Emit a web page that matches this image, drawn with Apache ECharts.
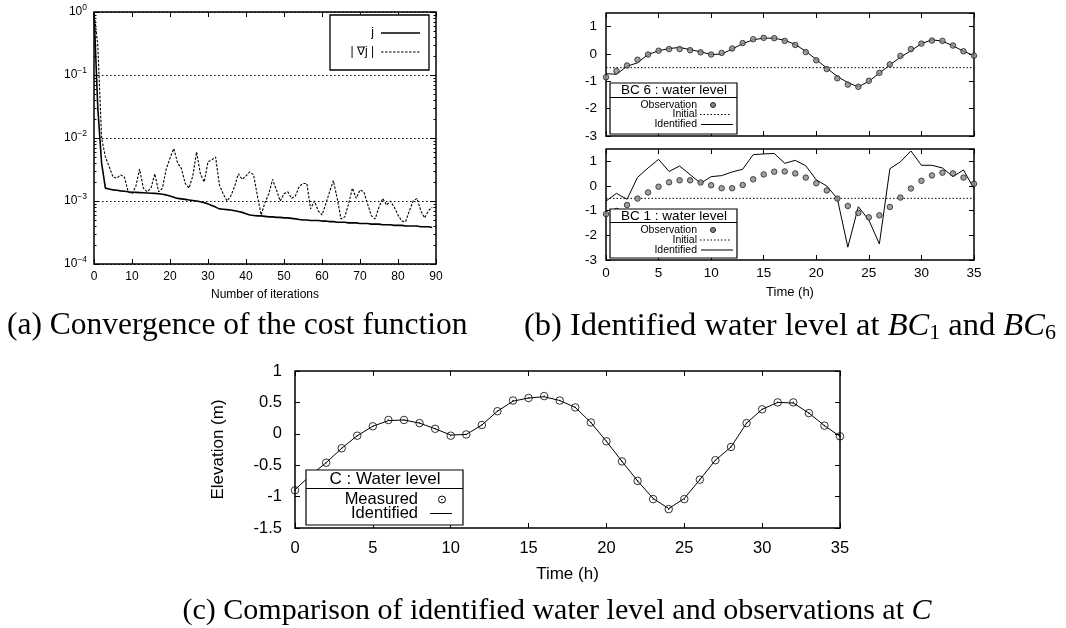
<!DOCTYPE html>
<html><head><meta charset="utf-8">
<script src="https://cdn.jsdelivr.net/npm/echarts@6/dist/echarts.min.js"></script>
<style>html,body{margin:0;padding:0;background:#fff}#c{width:1066px;height:628px}</style>
</head><body><div id="c"></div>
<script>
// ---------- DATA ----------
// (a) convergence, iterations 0..89
const costJ = [1,0.03,0.004,0.0016,0.00155,0.0015,0.00148,0.00145,0.00143,0.0014,
  0.00138,0.00137,0.00136,0.00135,0.00134,0.00133,0.00132,0.0013,0.00128,0.00125,
  0.0012,0.00115,0.0011,0.00108,0.00106,0.00104,0.00102,0.001,0.00097,0.00094,
  0.0009,0.00085,0.0008,0.00075,0.00074,0.00073,0.00072,0.0007,0.00068,0.00066,
  0.00063,0.0006,0.00059,0.00058,0.00058,0.00057,0.00056,0.00056,0.00055,0.00055,
  0.00054,0.00054,0.00053,0.00052,0.00051,0.0005,0.0005,0.00049,0.00049,0.00049,
  0.00048,0.00048,0.00047,0.00047,0.00046,0.00046,0.00046,0.00045,0.00045,0.00045,
  0.00044,0.00044,0.00044,0.00043,0.00043,0.00043,0.00042,0.00042,0.00042,0.00041,
  0.00041,0.00041,0.0004,0.0004,0.0004,0.0004,0.00039,0.00039,0.00039,0.00038];
const gradJ = [1,0.3,0.01,0.005,0.0035,0.0024,0.0023,0.0026,0.0024,0.0014,
  0.0013,0.0017,0.0032,0.0016,0.0014,0.0016,0.0027,0.0014,0.0016,0.0032,
  0.0048,0.0068,0.004,0.0033,0.0019,0.0016,0.0025,0.006,0.0027,0.002,
  0.0042,0.0045,0.005,0.0018,0.0013,0.001,0.0012,0.0017,0.0027,0.0022,
  0.0025,0.0029,0.0026,0.0012,0.0006,0.00095,0.0013,0.0022,0.0015,0.001,
  0.0013,0.0014,0.0011,0.0012,0.0017,0.0019,0.0019,0.00075,0.001,0.0007,
  0.0006,0.0009,0.0014,0.0021,0.0011,0.00052,0.00056,0.0009,0.0016,0.0011,
  0.0015,0.0014,0.0009,0.00058,0.00052,0.0008,0.0011,0.00086,0.001,0.0008,
  0.0006,0.00048,0.00047,0.0007,0.001,0.0011,0.0007,0.00054,0.0007,0.0008];

// (b)/(c) hours 0..35
const hours = [0,1,2,3,4,5,6,7,8,9,10,11,12,13,14,15,16,17,18,19,20,21,22,23,24,25,26,27,28,29,30,31,32,33,34,35];
const bc6Obs = [-0.85,-0.62,-0.42,-0.21,-0.02,0.12,0.18,0.18,0.14,0.06,-0.02,0.04,0.2,0.4,0.54,0.59,0.58,0.48,0.33,0.07,
  -0.23,-0.55,-0.89,-1.12,-1.2,-0.98,-0.69,-0.38,-0.07,0.18,0.38,0.49,0.48,0.31,0.1,-0.06];
const bc6Ident = [-0.72,-0.74,-0.45,-0.32,-0.02,0.12,0.2,0.24,0.16,0.08,-0.02,0.0,0.18,0.38,0.52,0.58,0.58,0.5,0.35,0.1,
  -0.2,-0.52,-0.82,-1.05,-1.2,-1.0,-0.7,-0.4,-0.12,0.12,0.38,0.52,0.47,0.3,0.1,-0.06];
const bc1Obs = [-1.14,-1.01,-0.77,-0.51,-0.26,-0.03,0.15,0.23,0.23,0.14,0.03,-0.09,-0.09,0.04,0.27,0.47,0.58,0.59,0.51,0.34,
  0.11,-0.18,-0.51,-0.81,-1.09,-1.27,-1.19,-0.85,-0.47,-0.1,0.21,0.43,0.54,0.51,0.34,0.09];
const bc1Ident = [-0.61,-0.3,-0.54,0.35,0.73,1.08,0.59,0.81,0.46,0.11,0.38,0.42,0.57,0.68,1.27,1.3,1.32,0.92,1.04,0.82,
  0.25,0.0,-0.51,-2.48,-0.84,-1.38,-2.35,0.7,0.98,1.42,0.84,0.84,0.73,0.38,0.65,-0.11];
const initialHours = [0, 35];
const initialLevel = [-0.5, -0.5];
const cMeasured = [-0.9,-0.66,-0.46,-0.23,-0.03,0.12,0.22,0.22,0.17,0.08,-0.03,-0.01,0.14,0.36,0.53,0.57,0.6,0.53,0.42,0.18,
  -0.12,-0.44,-0.75,-1.04,-1.2,-1.04,-0.73,-0.42,-0.21,0.17,0.39,0.5,0.5,0.33,0.13,-0.04];
const cIdent = [-0.89,-0.66,-0.46,-0.23,-0.03,0.12,0.21,0.22,0.17,0.08,-0.02,-0.01,0.14,0.36,0.52,0.57,0.59,0.53,0.42,0.18,
  -0.12,-0.44,-0.75,-1.03,-1.19,-1.03,-0.73,-0.42,-0.21,0.17,0.39,0.5,0.49,0.33,0.13,-0.04];

// ---------- HELPERS ----------
const SANS = '"Liberation Sans", Arial, sans-serif';
const SERIF = '"Liberation Serif", "Times New Roman", serif';
const pair = (xs, ys) => ys.map((v, i) => [xs[i], v]);
const idx = ys => ys.map((v, i) => [i, v]);

function xAx(grid, min, max, interval, opts) {
  return Object.assign({
    gridIndex: grid, type: 'value', min, max, interval, position: 'bottom',
    axisLine: {show: false, onZero: false},
    axisTick: {show: true, inside: true, length: 5, lineStyle: {color: '#000', width: 1}},
    splitLine: {show: false},
    axisLabel: {show: false}
  }, opts || {});
}
function yAx(grid, min, max, interval, opts) {
  return Object.assign({
    gridIndex: grid, type: 'value', min, max, interval, position: 'left',
    axisLine: {show: false, onZero: false},
    axisTick: {show: true, inside: true, length: 5, lineStyle: {color: '#000', width: 1}},
    splitLine: {show: false},
    axisLabel: {show: false}
  }, opts || {});
}
const logLabel = {
  show: true, margin: 7, color: '#000', fontFamily: SANS, fontSize: 12,
  formatter: v => { const e = Math.round(Math.log10(v)); return '{b|10}{s|' + (e === 0 ? '0' : '\u2212' + (-e)) + '}'; },
  rich: { b: {fontSize: 12, fontFamily: SANS, color: '#000'},
          s: {fontSize: 8.5, fontFamily: SANS, color: '#000', padding: [0, 0, 8, 0]} }
};
const logAxisBase = {
  type: 'log', logBase: 10, min: 0.0001, max: 1,
  axisLine: {show: false, onZero: false},
  axisTick: {show: true, inside: true, length: 5, lineStyle: {color: '#000'}},
  minorTick: {show: true, splitNumber: 9, length: 2.5, lineStyle: {color: '#000'}},
  splitLine: {show: false}, axisLabel: {show: false}
};

const gridBorder = {show: true, borderColor: '#000', borderWidth: 1.5, backgroundColor: 'transparent'};

const option = {
  animation: false,
  backgroundColor: '#fff',
  grid: [
    Object.assign({left: 94, top: 12, width: 342, height: 252}, gridBorder),
    Object.assign({left: 606, top: 13, width: 368, height: 123}, gridBorder),
    Object.assign({left: 606, top: 149, width: 368, height: 111}, gridBorder),
    Object.assign({left: 295, top: 371, width: 545, height: 157}, gridBorder)
  ],
  xAxis: [
    xAx(0, 0, 90, 10, {axisLabel: {show: true, margin: 7, color: '#000', fontFamily: SANS, fontSize: 12},
      name: 'Number of iterations', nameLocation: 'middle', nameGap: 25,
      nameTextStyle: {color: '#000', fontFamily: SANS, fontSize: 12}}),
    xAx(0, 0, 90, 10, {position: 'top'}),
    xAx(1, 0, 35, 5),
    xAx(1, 0, 35, 5, {position: 'top'}),
    xAx(2, 0, 35, 5, {axisLabel: {show: true, margin: 6, color: '#000', fontFamily: SANS, fontSize: 13.5},
      name: 'Time (h)', nameLocation: 'middle', nameGap: 26,
      nameTextStyle: {color: '#000', fontFamily: SANS, fontSize: 13}}),
    xAx(2, 0, 35, 5, {position: 'top'}),
    xAx(3, 0, 35, 5, {axisLabel: {show: true, margin: 12, color: '#000', fontFamily: SANS, fontSize: 16.5},
      name: 'Time (h)', nameLocation: 'middle', nameGap: 38,
      nameTextStyle: {color: '#000', fontFamily: SANS, fontSize: 17}}),
    xAx(3, 0, 35, 5, {position: 'top'})
  ],
  yAxis: [
    Object.assign({gridIndex: 0, position: 'left'}, logAxisBase, {axisLabel: logLabel,
      splitLine: {show: true, lineStyle: {color: '#000', type: [1.5, 2.5], width: 1}}}),
    Object.assign({gridIndex: 0, position: 'right'}, logAxisBase),
    yAx(1, -3, 1.5, 1, {axisLabel: {show: true, showMaxLabel: false, margin: 9, color: '#000', fontFamily: SANS, fontSize: 13.5}}),
    yAx(1, -3, 1.5, 1, {position: 'right'}),
    yAx(2, -3, 1.5, 1, {axisLabel: {show: true, showMaxLabel: false, margin: 9, color: '#000', fontFamily: SANS, fontSize: 13.5}}),
    yAx(2, -3, 1.5, 1, {position: 'right'}),
    yAx(3, -1.5, 1, 0.5, {axisLabel: {show: true, margin: 13, color: '#000', fontFamily: SANS, fontSize: 16.5},
      name: 'Elevation (m)', nameLocation: 'middle', nameGap: 68,
      nameTextStyle: {color: '#000', fontFamily: SANS, fontSize: 17}}),
    yAx(3, -1.5, 1, 0.5, {position: 'right'})
  ],
  series: [
    {name: 'j', type: 'line', xAxisIndex: 0, yAxisIndex: 0, data: idx(costJ), showSymbol: false,
      lineStyle: {color: '#000', width: 1.6}, z: 3},
    {name: '|∇j|', type: 'line', xAxisIndex: 0, yAxisIndex: 0, data: idx(gradJ), showSymbol: false,
      lineStyle: {color: '#000', width: 1.1, type: [2.5, 1.5]}, z: 3},

    {name: 'BC6 Initial', type: 'line', xAxisIndex: 2, yAxisIndex: 2, data: pair(initialHours, initialLevel), showSymbol: false,
      lineStyle: {color: '#000', width: 1, type: [1.5, 2]}},
    {name: 'BC6 Identified', type: 'line', xAxisIndex: 2, yAxisIndex: 2, data: pair(hours, bc6Ident), showSymbol: false,
      lineStyle: {color: '#000', width: 1}},
    {name: 'BC6 Observation', type: 'scatter', xAxisIndex: 2, yAxisIndex: 2, data: pair(hours, bc6Obs), symbol: 'circle', symbolSize: 5.5,
      itemStyle: {color: '#8a8a8a', borderColor: '#222', borderWidth: 1}, z: 4},

    {name: 'BC1 Initial', type: 'line', xAxisIndex: 4, yAxisIndex: 4, data: pair(initialHours, initialLevel), showSymbol: false,
      lineStyle: {color: '#000', width: 1, type: [1.5, 2]}},
    {name: 'BC1 Identified', type: 'line', xAxisIndex: 4, yAxisIndex: 4, data: pair(hours, bc1Ident), showSymbol: false,
      lineStyle: {color: '#000', width: 1}},
    {name: 'BC1 Observation', type: 'scatter', xAxisIndex: 4, yAxisIndex: 4, data: pair(hours, bc1Obs), symbol: 'circle', symbolSize: 5.5,
      itemStyle: {color: '#8a8a8a', borderColor: '#222', borderWidth: 1}, z: 4},

    {name: 'C Identified', type: 'line', xAxisIndex: 6, yAxisIndex: 6, data: pair(hours, cIdent), showSymbol: false,
      lineStyle: {color: '#000', width: 1}},
    {name: 'C Measured', type: 'scatter', xAxisIndex: 6, yAxisIndex: 6, data: pair(hours, cMeasured), symbol: 'circle', symbolSize: 7.5,
      itemStyle: {color: 'rgba(255,255,255,0)', borderColor: '#000', borderWidth: 1}, z: 4},
    {name: 'C Measured dot', type: 'scatter', xAxisIndex: 6, yAxisIndex: 6, data: pair(hours, cMeasured), symbol: 'circle', symbolSize: 1.6,
      itemStyle: {color: '#000'}, z: 5}
  ],
  graphic: [
    // legend (a)
    {type: 'rect', shape: {x: 330, y: 15, width: 99, height: 55}, style: {fill: '#fff', stroke: '#000', lineWidth: 1.3}, z: 10},
    {type: 'text', x: 374, y: 33, style: {text: 'j', fontFamily: SANS, fontSize: 12, fill: '#000', align: 'right', verticalAlign: 'middle'}, z: 11},
    {type: 'line', shape: {x1: 381, y1: 33, x2: 420, y2: 33}, style: {stroke: '#000', lineWidth: 1.5}, z: 11},
    {type: 'text', x: 374, y: 52, style: {text: '| \u2207j |', fontFamily: SANS, fontSize: 12, fill: '#000', align: 'right', verticalAlign: 'middle'}, z: 11},
    {type: 'line', shape: {x1: 381, y1: 52, x2: 420, y2: 52}, style: {stroke: '#000', lineWidth: 1.1, lineDash: [2.5, 1.5]}, z: 11},

    // legend BC6
    {type: 'rect', shape: {x: 610, y: 83, width: 127, height: 51}, style: {fill: '#fff', stroke: '#000', lineWidth: 1.2}, z: 10},
    {type: 'line', shape: {x1: 610, y1: 97.5, x2: 737, y2: 97.5}, style: {stroke: '#000', lineWidth: 1}, z: 11},
    {type: 'text', x: 674, y: 90.5, style: {text: 'BC 6 : water level', fontFamily: SANS, fontSize: 13.5, fill: '#000', align: 'center', verticalAlign: 'middle'}, z: 11},
    {type: 'text', x: 697, y: 105, style: {text: 'Observation', fontFamily: SANS, fontSize: 10.5, fill: '#000', align: 'right', verticalAlign: 'middle'}, z: 11},
    {type: 'circle', shape: {cx: 713, cy: 105, r: 2.5}, style: {fill: '#8a8a8a', stroke: '#222', lineWidth: 1}, z: 11},
    {type: 'text', x: 697, y: 114.5, style: {text: 'Initial', fontFamily: SANS, fontSize: 10.5, fill: '#000', align: 'right', verticalAlign: 'middle'}, z: 11},
    {type: 'line', shape: {x1: 700, y1: 114.5, x2: 730, y2: 114.5}, style: {stroke: '#000', lineWidth: 1, lineDash: [1.5, 2]}, z: 11},
    {type: 'text', x: 697, y: 124.5, style: {text: 'Identified', fontFamily: SANS, fontSize: 10.5, fill: '#000', align: 'right', verticalAlign: 'middle'}, z: 11},
    {type: 'line', shape: {x1: 701, y1: 124.5, x2: 733, y2: 124.5}, style: {stroke: '#000', lineWidth: 1}, z: 11},

    // legend BC1
    {type: 'rect', shape: {x: 610, y: 209, width: 127, height: 49}, style: {fill: '#fff', stroke: '#000', lineWidth: 1.2}, z: 10},
    {type: 'line', shape: {x1: 610, y1: 222.5, x2: 737, y2: 222.5}, style: {stroke: '#000', lineWidth: 1}, z: 11},
    {type: 'text', x: 674, y: 216, style: {text: 'BC 1 : water level', fontFamily: SANS, fontSize: 13.5, fill: '#000', align: 'center', verticalAlign: 'middle'}, z: 11},
    {type: 'text', x: 697, y: 230, style: {text: 'Observation', fontFamily: SANS, fontSize: 10.5, fill: '#000', align: 'right', verticalAlign: 'middle'}, z: 11},
    {type: 'circle', shape: {cx: 713, cy: 230, r: 2.5}, style: {fill: '#8a8a8a', stroke: '#222', lineWidth: 1}, z: 11},
    {type: 'text', x: 697, y: 240, style: {text: 'Initial', fontFamily: SANS, fontSize: 10.5, fill: '#000', align: 'right', verticalAlign: 'middle'}, z: 11},
    {type: 'line', shape: {x1: 700, y1: 240, x2: 730, y2: 240}, style: {stroke: '#000', lineWidth: 1, lineDash: [1.5, 2]}, z: 11},
    {type: 'text', x: 697, y: 250, style: {text: 'Identified', fontFamily: SANS, fontSize: 10.5, fill: '#000', align: 'right', verticalAlign: 'middle'}, z: 11},
    {type: 'line', shape: {x1: 701, y1: 250, x2: 733, y2: 250}, style: {stroke: '#000', lineWidth: 1}, z: 11},

    // legend C
    {type: 'rect', shape: {x: 306, y: 470, width: 157, height: 55}, style: {fill: '#fff', stroke: '#000', lineWidth: 1.2}, z: 10},
    {type: 'line', shape: {x1: 306, y1: 488.5, x2: 463, y2: 488.5}, style: {stroke: '#000', lineWidth: 1}, z: 11},
    {type: 'text', x: 385, y: 479, style: {text: 'C : Water level', fontFamily: SANS, fontSize: 17, fill: '#000', align: 'center', verticalAlign: 'middle'}, z: 11},
    {type: 'text', x: 418, y: 499.5, style: {text: 'Measured', fontFamily: SANS, fontSize: 16.5, fill: '#000', align: 'right', verticalAlign: 'middle'}, z: 11},
    {type: 'circle', shape: {cx: 442, cy: 499.5, r: 3.5}, style: {fill: 'none', stroke: '#000', lineWidth: 1}, z: 11},
    {type: 'circle', shape: {cx: 442, cy: 499.5, r: 0.8}, style: {fill: '#000'}, z: 11},
    {type: 'text', x: 418, y: 513.5, style: {text: 'Identified', fontFamily: SANS, fontSize: 16.5, fill: '#000', align: 'right', verticalAlign: 'middle'}, z: 11},
    {type: 'line', shape: {x1: 430, y1: 513.5, x2: 452, y2: 513.5}, style: {stroke: '#000', lineWidth: 1}, z: 11},

    // captions
    {type: 'text', x: 7, y: 326, style: {text: '(a) Convergence of the cost function', fontFamily: SERIF, fontSize: 31.5, fill: '#000', align: 'left', verticalAlign: 'middle'}},
    {type: 'text', x: 524, y: 326, style: {text: '(b) Identified water level at {i|BC}{s|1} and {i|BC}{s|6}', fontFamily: SERIF, fontSize: 32.5, fill: '#000', align: 'left', verticalAlign: 'middle',
      rich: {i: {fontFamily: SERIF, fontSize: 32.5, fontStyle: 'italic', fill: '#000'}, s: {fontFamily: SERIF, fontSize: 22, fill: '#000', padding: [15, 0, 0, 0]}}}},
    {type: 'text', x: 557, y: 611, style: {text: '(c) Comparison of identified water level and observations at {i|C}', fontFamily: SERIF, fontSize: 30, fill: '#000', align: 'center', verticalAlign: 'middle',
      rich: {i: {fontFamily: SERIF, fontSize: 30, fontStyle: 'italic', fill: '#000'}}}}
  ]
};
const chart = echarts.init(document.getElementById('c'), null, {renderer: 'canvas'});
chart.setOption(option);
</script></body></html>
